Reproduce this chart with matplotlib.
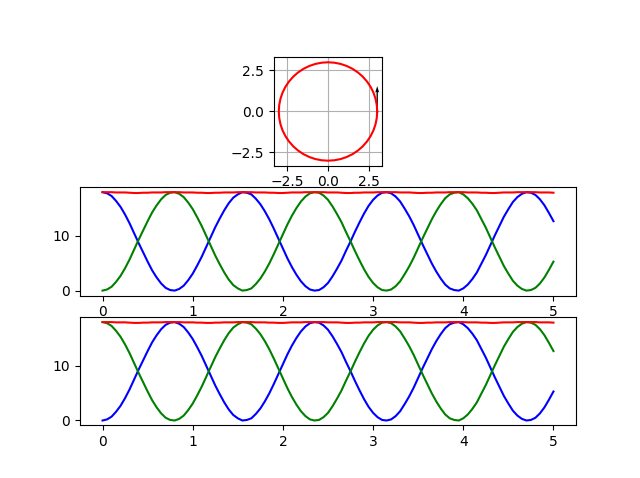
import numpy as np
import matplotlib
matplotlib.use('Agg')
import matplotlib.pyplot as plt

# Phase-space trajectory (position, scaled velocity)
circle_x = [3.0, 2.974, 2.898, 2.772, 2.598, 2.380, 2.121, 1.826, 1.5, 1.148, 0.776, 0.392, 0.0,
            -0.392, -0.776, -1.148, -1.5, -1.826, -2.121, -2.380, -2.598, -2.772, -2.898, -2.974, -3.0,
            -2.974, -2.898, -2.772, -2.598, -2.380, -2.121, -1.826, -1.5, -1.148, -0.776, -0.392, 0.0,
            0.392, 0.776, 1.148, 1.5, 1.826, 2.121, 2.380, 2.598, 2.772, 2.898, 2.974, 3.0]
circle_y = [0.0, 0.392, 0.776, 1.148, 1.5, 1.826, 2.121, 2.380, 2.598, 2.772, 2.898, 2.974, 3.0,
            2.974, 2.898, 2.772, 2.598, 2.380, 2.121, 1.826, 1.5, 1.148, 0.776, 0.392, 0.0,
            -0.392, -0.776, -1.148, -1.5, -1.826, -2.121, -2.380, -2.598, -2.772, -2.898, -2.974, -3.0,
            -2.974, -2.898, -2.772, -2.598, -2.380, -2.121, -1.826, -1.5, -1.148, -0.776, -0.392, 0.0]
# arrow: start point and direction
arrow_pos = (3.0, 0.0)
arrow_vec = (0.0, 1.55)

# time samples, 0 to 5 in steps of 0.05
t = np.linspace(0, 5, 101)

energy_a = [18.0, 17.8, 17.3, 16.4, 15.3, 13.9, 12.3, 10.5, 8.7, 7.0,
            5.3, 3.7, 2.4, 1.3, 0.5, 0.1, 0.0, 0.3, 0.9, 1.9,
            3.1, 4.6, 6.2, 8.0, 9.8, 11.6, 13.2, 14.7, 16.0, 17.0,
            17.6, 18.0, 17.9, 17.6, 16.8, 15.8, 14.5, 13.0, 11.3, 9.5,
            7.7, 5.9, 4.3, 2.9, 1.7, 0.8, 0.2, 0.0, 0.1, 0.6,
            1.4, 2.6, 4.0, 5.5, 7.3, 9.0, 10.8, 12.5, 14.1, 15.5,
            16.6, 17.4, 17.9, 18.0, 17.8, 17.2, 16.3, 15.0, 13.6, 12.0,
            10.2, 8.4, 6.7, 5.0, 3.5, 2.2, 1.1, 0.4, 0.1, 0.0,
            0.4, 1.1, 2.1, 3.3, 4.9, 6.5, 8.3, 10.1, 11.8, 13.5,
            14.9, 16.2, 17.1, 17.7, 18.0, 17.9, 17.5, 16.7, 15.6, 14.2,
            12.7]
energy_b = [0.0, 0.2, 0.7, 1.6, 2.7, 4.1, 5.7, 7.5, 9.3, 11.0,
            12.7, 14.3, 15.6, 16.7, 17.5, 17.9, 18.0, 17.7, 17.1, 16.1,
            14.9, 13.4, 11.8, 10.0, 8.2, 6.4, 4.8, 3.3, 2.0, 1.0,
            0.4, 0.0, 0.1, 0.4, 1.2, 2.2, 3.5, 5.0, 6.7, 8.5,
            10.3, 12.1, 13.7, 15.1, 16.3, 17.2, 17.8, 18.0, 17.9, 17.4,
            16.6, 15.4, 14.0, 12.5, 10.7, 9.0, 7.2, 5.5, 3.9, 2.5,
            1.4, 0.6, 0.1, 0.0, 0.2, 0.8, 1.7, 3.0, 4.4, 6.0,
            7.8, 9.6, 11.3, 13.0, 14.5, 15.8, 16.9, 17.6, 17.9, 18.0,
            17.6, 16.9, 15.9, 14.7, 13.1, 11.5, 9.7, 7.9, 6.2, 4.5,
            3.1, 1.8, 0.9, 0.3, 0.0, 0.1, 0.5, 1.3, 2.4, 3.8,
            5.3]
energy_total = [18.0, 18.0, 18.0, 17.95, 17.95, 17.95, 17.9, 17.85, 17.85, 17.9,
                17.9, 17.95, 17.95, 17.95, 18.0, 18.0, 18.0, 18.0, 17.95, 17.95,
                17.95, 17.9, 17.9, 17.85, 17.85, 17.9, 17.9, 17.95, 17.95, 17.95,
                18.0, 18.0, 18.0, 18.0, 17.95, 17.95, 17.95, 17.9, 17.9, 17.85,
                17.85, 17.9, 17.95, 17.95, 17.95, 18.0, 18.0, 18.0, 18.0, 18.0,
                17.95, 17.95, 17.95, 17.9, 17.85, 17.85, 17.9, 17.9, 17.95, 17.95,
                17.95, 18.0, 18.0, 18.0, 18.0, 18.0, 17.95, 17.95, 17.95, 17.9,
                17.85, 17.85, 17.9, 17.9, 17.95, 17.95, 17.95, 18.0, 18.0, 18.0,
                18.0, 17.95, 17.95, 17.95, 17.9, 17.9, 17.85, 17.85, 17.9, 17.95,
                17.95, 17.95, 18.0, 18.0, 18.0, 18.0, 18.0, 17.95, 17.95, 17.95,
                17.9]

fig = plt.figure(figsize=(6.4, 4.78), dpi=100)

ax1 = fig.add_subplot(3, 1, 1)
ax1.plot(circle_x, circle_y, 'r-')
ax1.quiver(arrow_pos[0], arrow_pos[1], arrow_vec[0], arrow_vec[1],
           angles='xy', scale_units='xy', scale=1, width=0.012)
ax1.set_aspect('equal')
ax1.grid(True)

ax2 = fig.add_subplot(3, 1, 2)
ax2.plot(t, energy_a, 'b-')
ax2.plot(t, energy_b, 'g-')
ax2.plot(t, energy_total, 'r-')

ax3 = fig.add_subplot(3, 1, 3)
ax3.plot(t, energy_b, 'b-')
ax3.plot(t, energy_a, 'g-')
ax3.plot(t, energy_total, 'r-')

fig.savefig('out.png')
